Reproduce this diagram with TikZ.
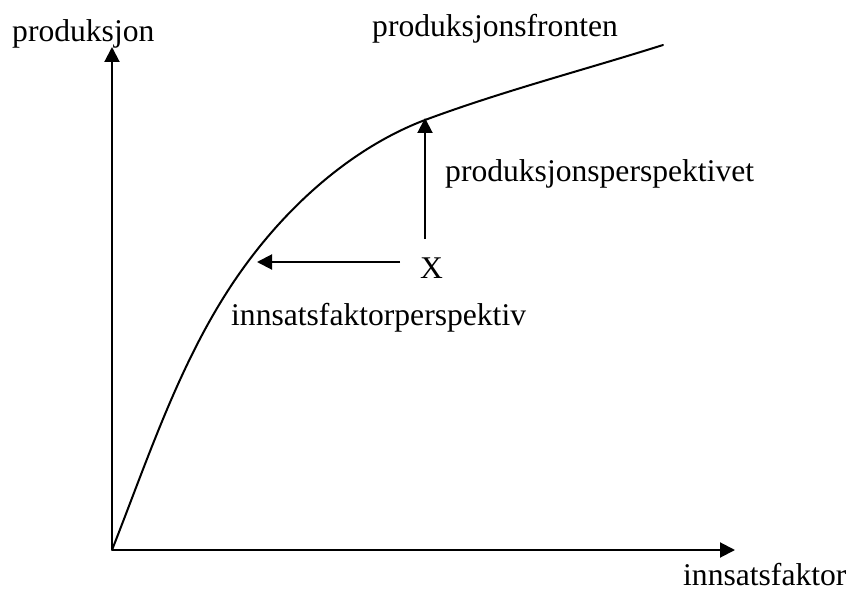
\documentclass[tikz,border=0pt]{standalone}
\usepackage{fontspec}
\setmainfont{Liberation Serif}
\usetikzlibrary{arrows.meta}
\begin{document}
\begin{tikzpicture}[x=1pt,y=-1pt,
  lbl/.style={anchor=base west,inner sep=0pt,font=\fontsize{31.6}{36}\selectfont},
  axis/.style={line width=2pt,-{Triangle[width=15pt,length=15pt]}},
  curve/.style={line width=2pt,line join=round,line cap=round}]
\useasboundingbox (0,0) rectangle (852,591);
\fill[white] (0,0) rectangle (852,591);
\coordinate (O) at (112,550);
\coordinate (ytip) at (112,47);
\coordinate (xtip) at (735,550);
\coordinate (hstart) at (400,262);
\coordinate (htip) at (257,262);
\coordinate (vstart) at (425,239);
\coordinate (vtip) at (425,118);
\coordinate (P1) at (247,263);
\coordinate (P2) at (425,120);
\coordinate (P3) at (663,45);
\node[lbl] (ylab) at (12,42) {produksjon};
\node[lbl] (front) at (372,37) {produksjonsfronten};
\node[lbl] (xlab) at (683,585) {innsatsfaktor};
\node[lbl] (X) at (420,278) {X};
\node[lbl] (pp) at (445,182) {produksjonsperspektivet};
\node[lbl] (ip) at (231,325) {innsatsfaktorperspektiv};
\draw[axis] (O) -- (ytip);
\draw[axis] (O) -- (xtip);
\draw[axis] (hstart) -- (htip);
\draw[axis] (vstart) -- (vtip);
\draw[curve] (O) .. controls (151,451) and (184,348) .. (P1)
  .. controls (292,202) and (354,147) .. (P2)
  .. controls (503,91) and (584,70) .. (P3);
\end{tikzpicture}
\end{document}
